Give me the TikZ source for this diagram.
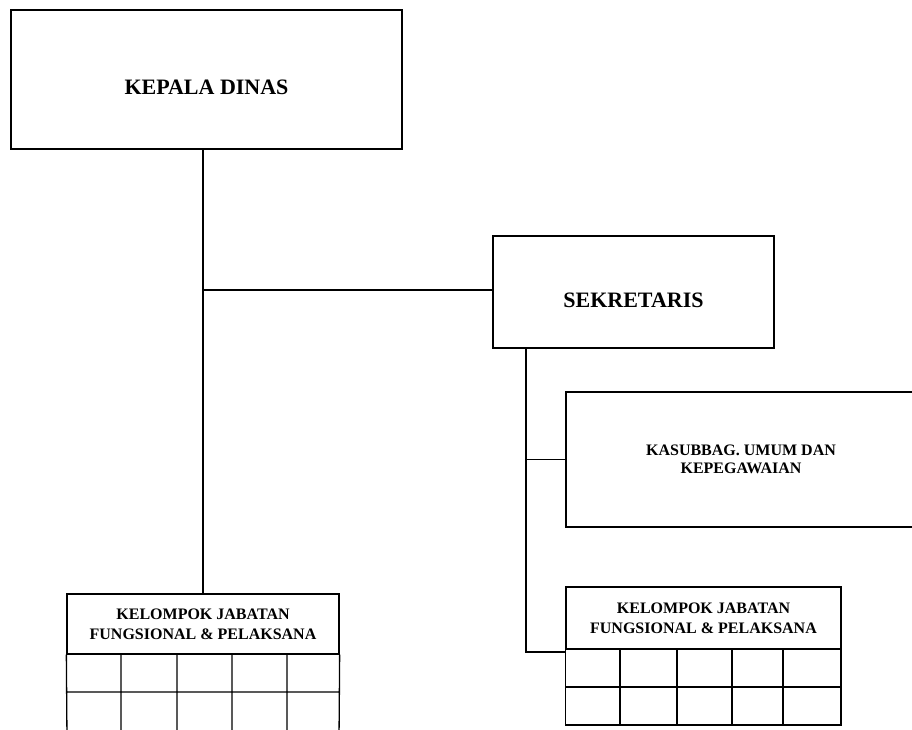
\documentclass[tikz,border=0pt]{standalone}
\usepackage{fontspec}
\setmainfont{Liberation Serif}
\begin{document}
\begin{tikzpicture}[x=1pt,y=-1pt,line width=1.3pt,
  box/.style={draw,rectangle,inner sep=0pt,align=center},
  bigtxt/.style={font=\fontsize{22}{26}\selectfont\bfseries},
  smalltxt/.style={font=\fontsize{16}{18.5}\selectfont\bfseries},
  grptxt/.style={font=\fontsize{16}{20}\selectfont\bfseries},
  gridline/.style={line width=1.3pt}]
\useasboundingbox (0,0) rectangle (912,729);
\clip (0,0) rectangle (912,729);
% boxes
\node[box,minimum width=391pt,minimum height=139pt,
  label={[bigtxt,yshift=-8pt]center:KEPALA DINAS}] (kd) at (206.5,79.5) {};
\node[box,minimum width=281pt,minimum height=112pt,
  label={[bigtxt,yshift=-8pt]center:SEKRETARIS}] (sek) at (633.5,292) {};
\node[box,smalltxt,minimum width=350pt,minimum height=135pt] (kas) at (741,459.5) {KASUBBAG. UMUM DAN\\KEPEGAWAIAN};
\node[box,grptxt,minimum width=272pt,minimum height=60pt] (lgh) at (203,624) {KELOMPOK JABATAN\\FUNGSIONAL \& PELAKSANA};
\node[box,grptxt,minimum width=275pt,minimum height=62pt] (rgh) at (703.5,618) {KELOMPOK JABATAN\\FUNGSIONAL \& PELAKSANA};
% grids
\draw[gridline] (lgh.south west) -- (67,740) (lgh.south east) -- (339,740)
  (67,692) -- (339,692)
  (121,654) -- (121,740) (177,654) -- (177,740) (232,654) -- (232,740) (287,654) -- (287,740);
\draw[gridline] (rgh.south west) rectangle (841,725)
  (566,687) -- (841,687)
  (620,649) -- (620,725) (677,649) -- (677,725) (732,649) -- (732,725) (783,649) -- (783,725);
% connectors
\coordinate (j1) at (203,290);
\coordinate (trunk) at (526,652);
\draw (kd.south -| lgh.north) -- (lgh.north);
\draw (j1) -- (j1 -| sek.west);
\draw (sek.south -| trunk) -- (trunk) -- (trunk -| rgh.west);
\draw (trunk |- kas.west) -- (kas.west);
\end{tikzpicture}
\end{document}
